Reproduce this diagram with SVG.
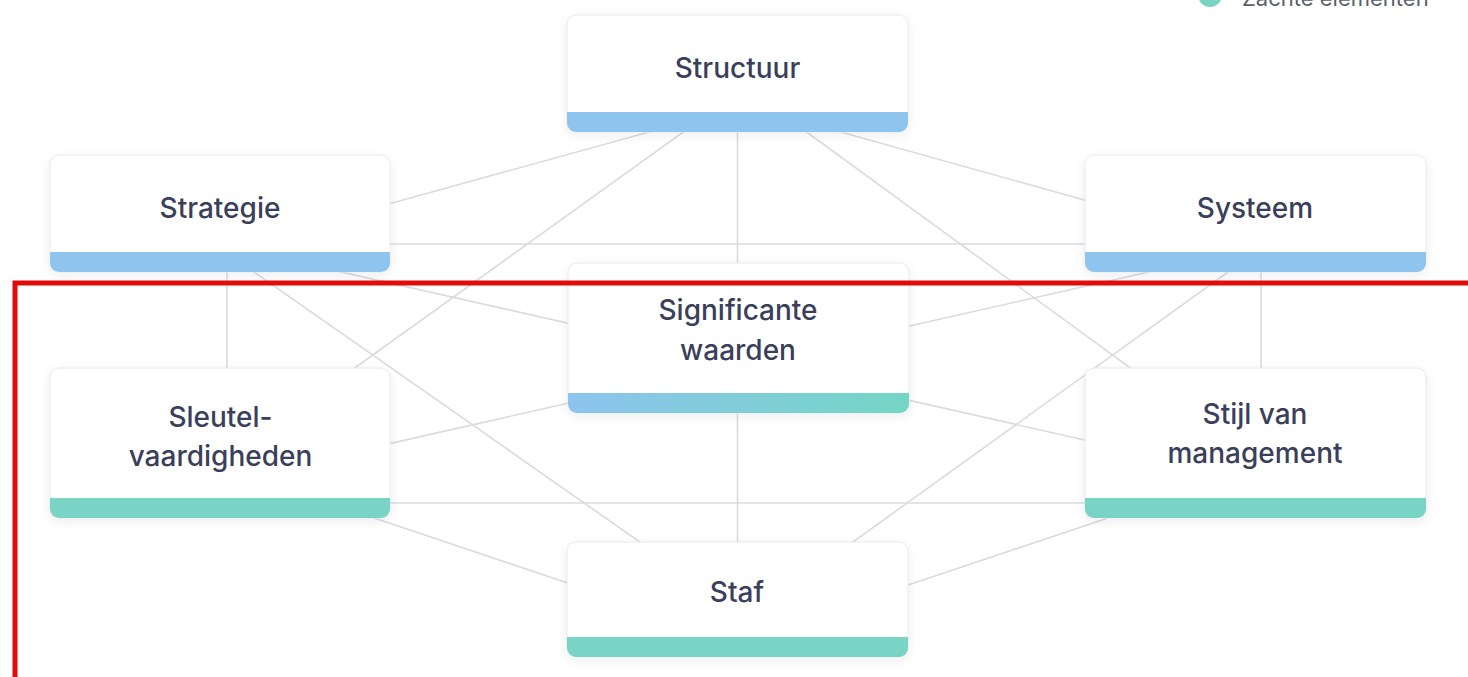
<svg xmlns="http://www.w3.org/2000/svg" width="1468" height="677" viewBox="0 0 1468 677">
  <defs>
    <style>
      .edge { stroke: #d9dbe0; stroke-width: 1.6; fill: none; }
      .card { fill: #ffffff; stroke: #e7e9ee; stroke-width: 1; filter: url(#soft); }
      .hard { fill: #8fc4ee; }
      .soft { fill: #79d4c5; }
      .label { font-family: Inter, "Noto Sans", "Liberation Sans", sans-serif; font-size: 28px; font-weight: 500; fill: #3a3f5b; text-anchor: middle; }
      .legend { font-family: Inter, "Noto Sans", "Liberation Sans", sans-serif; font-size: 22px; font-weight: 400; fill: #5a5f6b; }
    </style>
    <filter id="soft" x="-10%" y="-20%" width="120%" height="150%">
      <feDropShadow dx="0" dy="3" stdDeviation="5" flood-color="#22304a" flood-opacity="0.08"/>
    </filter>
    <linearGradient id="mixed" x1="0" y1="0" x2="1" y2="0">
      <stop offset="0" stop-color="#8cc4ef"/>
      <stop offset="1" stop-color="#74d6c4"/>
    </linearGradient>
  </defs>

  <rect width="1468" height="677" fill="#ffffff"/>

  <!-- legend (partly above the top edge) -->
  <g id="legend">
    <circle cx="1210" cy="-5" r="12" fill="#79d4c5"/>
    <text class="legend" x="1242" y="6">Zachte elementen</text>
  </g>

  <!-- connectors, drawn beneath the cards -->
  <g id="connectors">
    <line class="edge" x1="385" y1="205" x2="660" y2="129"/>
    <line class="edge" x1="693" y1="125" x2="345" y2="375"/>
    <line class="edge" x1="737.5" y1="125" x2="737.5" y2="550"/>
    <line class="edge" x1="797" y1="125" x2="1140" y2="375"/>
    <line class="edge" x1="830" y1="129" x2="1095" y2="203"/>
    <line class="edge" x1="385" y1="244" x2="1090" y2="244"/>
    <line class="edge" x1="335" y1="270.6" x2="1090" y2="441.2"/>
    <line class="edge" x1="247" y1="267" x2="647" y2="547"/>
    <line class="edge" x1="227" y1="265" x2="227" y2="375"/>
    <line class="edge" x1="1261" y1="265" x2="1261" y2="375"/>
    <line class="edge" x1="1235" y1="267" x2="846" y2="547"/>
    <line class="edge" x1="385" y1="444.6" x2="1160" y2="269.4"/>
    <line class="edge" x1="385" y1="503" x2="1090" y2="503"/>
    <line class="edge" x1="360" y1="513.3" x2="575" y2="585.4"/>
    <line class="edge" x1="1120" y1="514" x2="905" y2="586"/>
  </g>

  <!-- Structuur -->
  <g id="node-structuur">
    <rect class="card" x="567" y="15" width="341" height="117" rx="9"/>
    <path class="hard" d="M567 112 H908 V123 A9 9 0 0 1 899 132 H576 A9 9 0 0 1 567 123 Z"/>
    <text class="label" x="737.5" y="78">Structuur</text>
  </g>

  <!-- Strategie -->
  <g id="node-strategie">
    <rect class="card" x="50" y="155" width="340" height="117" rx="9"/>
    <path class="hard" d="M50 252 H390 V263 A9 9 0 0 1 381 272 H59 A9 9 0 0 1 50 263 Z"/>
    <text class="label" x="220" y="218">Strategie</text>
  </g>

  <!-- Systeem -->
  <g id="node-systeem">
    <rect class="card" x="1085" y="155" width="341" height="117" rx="9"/>
    <path class="hard" d="M1085 252 H1426 V263 A9 9 0 0 1 1417 272 H1094 A9 9 0 0 1 1085 263 Z"/>
    <text class="label" x="1255" y="218">Systeem</text>
  </g>

  <!-- Significante waarden -->
  <g id="node-significante-waarden">
    <rect class="card" x="568" y="263" width="341" height="150" rx="9"/>
    <path fill="url(#mixed)" d="M568 393 H909 V404 A9 9 0 0 1 900 413 H577 A9 9 0 0 1 568 404 Z"/>
    <text class="label" x="738" y="320">Significante</text>
    <text class="label" x="738" y="360">waarden</text>
  </g>

  <!-- Sleutelvaardigheden -->
  <g id="node-sleutelvaardigheden">
    <rect class="card" x="50" y="368" width="340" height="150" rx="9"/>
    <path class="soft" d="M50 498 H390 V509 A9 9 0 0 1 381 518 H59 A9 9 0 0 1 50 509 Z"/>
    <text class="label" x="220.5" y="427">Sleutel-</text>
    <text class="label" x="220.5" y="466">vaardigheden</text>
  </g>

  <!-- Stijl van management -->
  <g id="node-stijl-van-management">
    <rect class="card" x="1085" y="368" width="341" height="150" rx="9"/>
    <path class="soft" d="M1085 498 H1426 V509 A9 9 0 0 1 1417 518 H1094 A9 9 0 0 1 1085 509 Z"/>
    <text class="label" x="1255" y="424">Stijl van</text>
    <text class="label" x="1255" y="463">management</text>
  </g>

  <!-- Staf -->
  <g id="node-staf">
    <rect class="card" x="567" y="542" width="341" height="115" rx="9"/>
    <path class="soft" d="M567 637 H908 V648 A9 9 0 0 1 899 657 H576 A9 9 0 0 1 567 648 Z"/>
    <text class="label" x="737" y="602">Staf</text>
  </g>

  <!-- highlight frame around the soft elements -->
  <rect x="15" y="283" width="1480" height="420" fill="none" stroke="#e00b0b" stroke-width="5"/>
</svg>
